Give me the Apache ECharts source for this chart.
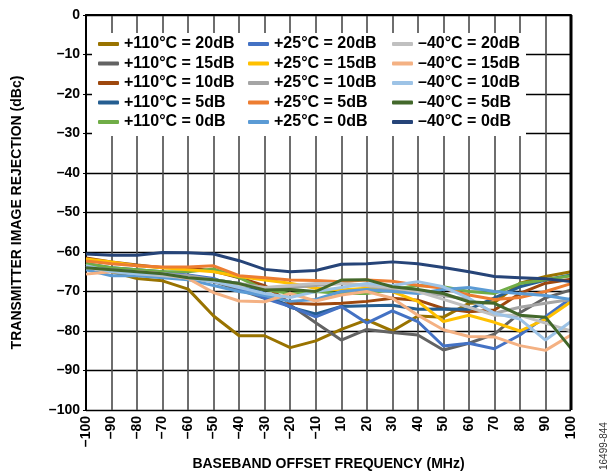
<!DOCTYPE html>
<html><head><meta charset="utf-8">
<script src="https://cdn.jsdelivr.net/npm/echarts@6/dist/echarts.min.js"></script>
<style>html,body{margin:0;padding:0;background:#fff}#c{width:608px;height:475px}</style>
</head><body><div id="c"></div>
<script>
const freqs = [-100,-90,-80,-70,-60,-50,-40,-30,-20,-10,10,20,30,40,50,60,70,80,90,100];
const yTicks = [0,-10,-20,-30,-40,-50,-60,-70,-80,-90,-100];

const h110_20 = [-62.9,-65,-66.7,-67.3,-69.4,-76.2,-81.2,-81.2,-84.2,-82.5,-79.6,-77.2,-80,-76.2,-76.5,-73,-72.8,-67.9,-66.2,-65];
const h110_15 = [-63.5,-64.5,-65,-65.5,-66.5,-67.5,-69.6,-71.7,-73.4,-77.9,-82.3,-79.6,-80.4,-81,-84.8,-83.1,-80.8,-75.4,-71.6,-69.6];
const h110_10 = [-61.5,-62.5,-63.3,-64,-64,-64.8,-66.5,-68.5,-73,-73.2,-73,-72.5,-71.7,-72.2,-74.3,-75.1,-74.7,-70.5,-67.9,-66.9];
const h110_5  = [-63,-64,-64.5,-65,-66,-67,-68,-70.5,-74,-75.7,-73.8,-73.6,-73.5,-74.5,-74.4,-74.5,-71.6,-68.8,-67.1,-65.8];
const h110_0  = [-63,-64,-64.5,-65,-65,-64.3,-66.5,-69.5,-70.5,-70,-70.5,-70.5,-69.5,-68.5,-68.8,-70,-70.5,-68,-67,-66];
const r25_20  = [-64,-64.5,-65,-65.5,-65.8,-66.7,-69.2,-71.7,-73.8,-76.4,-73.8,-78,-74.9,-77.6,-83.8,-83.1,-84.5,-81,-76.4,-71.7];
const r25_15  = [-61.8,-62.5,-63.5,-64,-64.5,-65,-66.2,-67.1,-67.9,-69.2,-69.6,-69.2,-70,-72.5,-77.6,-76,-77.8,-80,-77,-72.6];
const r25_10  = [-64,-64.5,-65,-65.5,-66,-67,-68,-69,-69,-68.5,-68,-68.5,-69.5,-70,-71,-72,-75.5,-74,-73,-72];
const r25_5   = [-62.3,-63,-63.5,-63.8,-63.8,-63.5,-66,-66.5,-67.1,-67.2,-67.5,-67.1,-67.4,-68.4,-69.2,-70.9,-72,-71.5,-70,-68];
const r25_0   = [-64.5,-66,-66,-66.5,-67,-68.5,-70,-71,-72.5,-72,-70,-69.5,-70,-70.5,-69.5,-69,-70,-70.5,-71,-72];
const c40_20  = [-64,-64.8,-65.5,-66,-66.5,-67.5,-68.5,-69,-68.5,-68,-68,-68.5,-69,-70,-72,-74,-76,-76,-78,-80];
const c40_15  = [-65.6,-65,-65,-65.5,-66.7,-70.3,-72.4,-72.6,-70.5,-72.4,-70.9,-70,-71.7,-76,-79.7,-81.4,-81.5,-83.7,-84.9,-81];
const c40_10  = [-63.5,-65,-65.5,-65.5,-66.5,-67.5,-69,-70.5,-71.5,-70,-69,-68,-68.5,-67.5,-68.8,-71.7,-75.5,-77,-82.3,-77.6];
const c40_5   = [-64,-64.5,-65,-65.5,-66.5,-67,-68,-69.6,-69.5,-70,-67.1,-67,-68.8,-69.5,-70.5,-72.6,-73,-76,-76.5,-84.4];
const c40_0   = [-60.5,-60.8,-60.8,-60.1,-60.2,-60.5,-62.2,-64.4,-65,-64.7,-63.1,-63,-62.5,-63,-63.9,-65,-66.2,-66.5,-66.8,-67.5];

const names = ['+110°C = 20dB','+110°C = 15dB','+110°C = 10dB','+110°C = 5dB','+110°C = 0dB',
  '+25°C = 20dB','+25°C = 15dB','+25°C = 10dB','+25°C = 5dB','+25°C = 0dB',
  '\u201340°C = 20dB','\u201340°C = 15dB','\u201340°C = 10dB','\u201340°C = 5dB','\u201340°C = 0dB'];
const values = [h110_20,h110_15,h110_10,h110_5,h110_0,r25_20,r25_15,r25_10,r25_5,r25_0,c40_20,c40_15,c40_10,c40_5,c40_0];
const colors = ['#997300','#636363','#9E480E','#255E91','#70AD47',
  '#4472C4','#FFC000','#A5A5A5','#ED7D31','#5B9BD5',
  '#C0C0C0','#F4B183','#9DC3E6','#43682B','#264478'];

const dash = v => String(v).replace('-', '\u2013');
const font = 'Liberation Sans, Arial, sans-serif';

const chart = echarts.init(document.getElementById('c'), null, {renderer:'canvas'});
const legendBase = {
  orient:'vertical', top:36, padding:0, itemGap:3.5, itemWidth:21, itemHeight:4,
  icon:'roundRect', selectedMode:false,
  textStyle:{fontFamily:font, fontWeight:'bold', fontSize:16, color:'#000', lineHeight:16}
};
chart.setOption({
  animation:false,
  color: colors,
  grid:{left:86, right:37, top:15, bottom:65, show:false, containLabel:false, outerBoundsMode:'none'},
  legend:[
    Object.assign({}, legendBase, {left:98, data:names.slice(0,5)}),
    Object.assign({}, legendBase, {left:248, data:names.slice(5,10)}),
    Object.assign({}, legendBase, {left:392, data:names.slice(10,15)})
  ],
  graphic:[
    {type:'rect', shape:{x:92, y:33, width:434, height:103}, style:{fill:'#fff'}, z:3},
    {type:'line', shape:{x1:571, y1:15, x2:571, y2:410}, style:{stroke:'#000', lineWidth:3}, z:5},
    {type:'text', x:599, y:470, rotation:Math.PI/2, style:{text:'16499-844', fill:'#333', font:'10px ' + font}, z:5}
  ],
  xAxis:{
    type:'category', data:freqs.map(dash), boundaryGap:false,
    name:'BASEBAND OFFSET FREQUENCY (MHz)', nameLocation:'middle', nameGap:47,
    nameTextStyle:{fontFamily:font, fontWeight:'bold', fontSize:14, color:'#000'},
    axisLine:{lineStyle:{color:'#000', width:2}},
    axisTick:{show:false},
    axisLabel:{rotate:90, interval:0, margin:6, fontFamily:font, fontWeight:'bold', fontSize:14, color:'#000'},
    splitLine:{show:true, interval:0, lineStyle:{color:'#4a4a4a', width:1.6}}
  },
  yAxis:{
    type:'value', min:-100, max:0, interval:10,
    name:'TRANSMITTER IMAGE REJECTION (dBc)', nameLocation:'middle', nameGap:62, nameRotate:90,
    nameTextStyle:{fontFamily:font, fontWeight:'bold', fontSize:14, color:'#000'},
    axisLine:{show:true, lineStyle:{color:'#000', width:2}},
    axisTick:{show:true, length:3, lineStyle:{color:'#000'}},
    axisLabel:{margin:6, fontFamily:font, fontWeight:'bold', fontSize:14, color:'#000',
      formatter: v => yTicks.indexOf(v) >= 0 ? dash(v) : ''},
    splitLine:{lineStyle:{color:'#000', width:1.3}}
  },
  series: values.map((d,i)=>({
    name:names[i], type:'line', data:d, symbol:'none', smooth:false,
    lineStyle:{width:3, color:colors[i]}, itemStyle:{color:colors[i]}
  }))
});
</script></body></html>
